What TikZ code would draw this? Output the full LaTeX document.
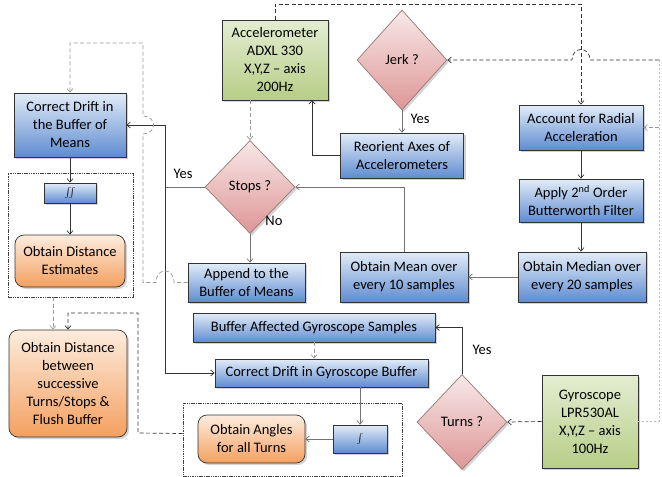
\documentclass[tikz,border=0pt]{standalone}
\usepackage{fontspec}
\setmainfont{Carlito}
\usetikzlibrary{arrows.meta,shapes.geometric,shadows}
\definecolor{bTop}{RGB}{226,236,248}
\definecolor{bBot}{RGB}{95,140,208}
\definecolor{oTop}{RGB}{253,236,222}
\definecolor{oBot}{RGB}{244,160,95}
\definecolor{gTop}{RGB}{228,237,210}
\definecolor{gBot}{RGB}{182,206,134}
\definecolor{pTop}{RGB}{248,232,232}
\definecolor{pBot}{RGB}{222,150,150}
\definecolor{dEdge}{RGB}{150,120,120}
\begin{document}
\begin{tikzpicture}[x=1pt,y=-1pt,
  font=\fontsize{14.5}{18}\selectfont,
  tip/.tip={Straight Barb[length=3.5pt,width=6pt]},
  shad/.style={drop shadow={opacity=0.35,shadow xshift=2pt,shadow yshift=-2pt}},
  box/.style={draw=black!80, line width=0.7pt, align=center, inner sep=1pt, shad},
  bluebox/.style={box, top color=bTop, bottom color=bBot},
  orangebox/.style={box, rounded corners=9pt, top color=oTop, bottom color=oBot},
  greenbox/.style={box, top color=gTop, bottom color=gBot},
  dia/.style={diamond, draw=dEdge, line width=0.7pt, top color=pTop, bottom color=pBot, inner sep=0pt, aspect=1, shad},
  grp/.style={draw=black!75, line width=0.6pt, dash pattern=on 1.5pt off 0.8pt},
  solidK/.style={draw=black!80, line width=0.7pt, -tip},
  solidG/.style={draw=black!55, line width=0.7pt, -tip},
  dashK/.style={draw=black!80, line width=0.7pt, dash pattern=on 4pt off 2.5pt, -tip},
  dashG/.style={draw=black!40, line width=0.7pt, dash pattern=on 4pt off 2.5pt, -tip},
  faint/.style={draw=black!25, line width=0.6pt, dash pattern=on 2pt off 2pt},
  lab/.style={inner sep=0pt}
]
\useasboundingbox (0,0) rectangle (662,477);

% groups
\node[grp, minimum width=125pt, minimum height=124pt] (lg) at (70.5,235) {};
\node[grp, minimum width=219pt, minimum height=73pt] (bg) at (292.5,439.5) {};

% nodes
\node[greenbox, minimum width=106pt, minimum height=80pt] (acc) at (275,60) {Accelerometer\\ADXL 330\\X,Y,Z -- axis\\200Hz};
\node[dia, minimum width=90pt, minimum height=100pt] (jerk) at (402,60) {Jerk ?};
\node[bluebox, minimum width=123pt, minimum height=45pt] (reo) at (402,155.5) {Reorient Axes of\\Accelerometers};
\node[bluebox, minimum width=124pt, minimum height=45pt] (acct) at (581,127.5) {Account for Radial\\Acceleration};
\node[bluebox, minimum width=124pt, minimum height=43pt] (apply) at (581,200.5) {Apply 2\textsuperscript{nd} Order\\Butterworth  Filter};
\node[bluebox, minimum width=128pt, minimum height=50pt] (median) at (582,277) {Obtain Median over\\every 20 samples};
\node[bluebox, minimum width=128pt, minimum height=50pt] (mean) at (404,277) {Obtain Mean over\\every 10 samples};
\node[dia, minimum width=90pt, minimum height=93pt] (stops) at (250,187) {Stops ?};
\node[bluebox, minimum width=117pt, minimum height=39pt] (append) at (246.5,282.5) {Append to the\\Buffer of Means};
\node[bluebox, minimum width=242pt, minimum height=29pt] (bags) at (314,327.5) {Buffer Affected  Gyroscope Samples};
\node[bluebox, minimum width=213pt, minimum height=28pt] (cdg) at (321.5,373) {Correct Drift in Gyroscope Buffer};
\node[orangebox, minimum width=107pt, minimum height=48pt] (angles) at (251.5,439) {Obtain Angles\\for all Turns};
\node[bluebox, minimum width=54pt, minimum height=28pt] (int1) at (360,439) {$\int$};
\node[dia, minimum width=90pt, minimum height=95pt] (turns) at (462,422) {Turns ?};
\node[greenbox, minimum width=96pt, minimum height=93pt] (gyro) at (590,421.5) {Gyroscope\\LPR530AL\\X,Y,Z -- axis\\100Hz};
\node[bluebox, minimum width=112pt, minimum height=64pt] (cdm) at (70,125) {Correct Drift in\\the Buffer of\\Means};
\node[bluebox, minimum width=52pt, minimum height=20pt] (int2) at (70,193) {$\int\!\!\int$};
\node[orangebox, minimum width=110pt, minimum height=52pt] (dest) at (70,261) {Obtain Distance\\Estimates};
\node[orangebox, minimum width=118pt, minimum height=107pt] (db) at (68,383.5) {Obtain Distance\\between\\successive\\Turns/Stops \&\\Flush Buffer};

% coordinates
\coordinate (rt) at (659,60);
\coordinate (rm) at (659,127.5);
\coordinate (ra) at (312,100);
\coordinate (sy) at (165,187);

% connectors
\draw[dashK] (acc.north) -- (275,4) -| (acct.north);
\draw[faint] (gyro.east) -| (rt);
\draw[dashG] (rm) -- (acct.east);
\draw[dashK] (rt) -- (590,60) .. controls (590,46) and (572,46) .. (572,60) -- (jerk.east);
\draw[dashG] (stops.north |- acc.south) -- (stops.north);
\draw[solidG] (jerk.south) -- (reo.north);
\node[lab] at (420,119) {Yes};
\draw[solidK] (reo.west) -| (ra);
\draw[solidK] (acct.south) -- (apply.north);
\draw[solidK] (apply.south) -- (apply.south |- median.north);
\draw[solidG] (median.west) -- (mean.east);
\draw[solidG] (mean.north) |- (stops.east);
\draw[solidG] (stops.south) -- (stops.south |- append.north);
\node[lab] at (274,221) {No};
\draw[solidG,-] (stops.west) -- (sy);
\node[lab] at (183,174) {Yes};
\draw[solidK] (sy) -- (165,125) -- (cdm.east);
\draw[solidK] (sy) |- (cdg.west);
\draw[dashG] (append.west) -- (174,282.5) .. controls (174,267) and (156,267) .. (156,282.5) -- (143,282.5) -- (143,134) .. controls (157,134) and (157,116) .. (143,116) -- (143,43) -| (cdm.north);
\draw[solidK] (cdm.south) -- (int2.north);
\draw[solidK] (int2.south) -- (dest.north);
\draw[dashG] ([xshift=-17.5pt]lg.south) -- ([xshift=-15pt]db.north);
\draw[dashK] ([yshift=6pt]bg.west) -- (138,433) -- (138,313) -| (db.north);
\draw[dashG] (bags.south) -- (bags.south |- cdg.north);
\draw[solidG] (int1.north |- cdg.south) -- (int1.north);
\draw[solidG] (int1.west) -- (angles.east);
\draw[solidK] (turns.north) |- (bags.east);
\node[lab] at (482,350) {Yes};
\draw[dashK] (gyro.west) -- (turns.east);
\end{tikzpicture}
\end{document}
